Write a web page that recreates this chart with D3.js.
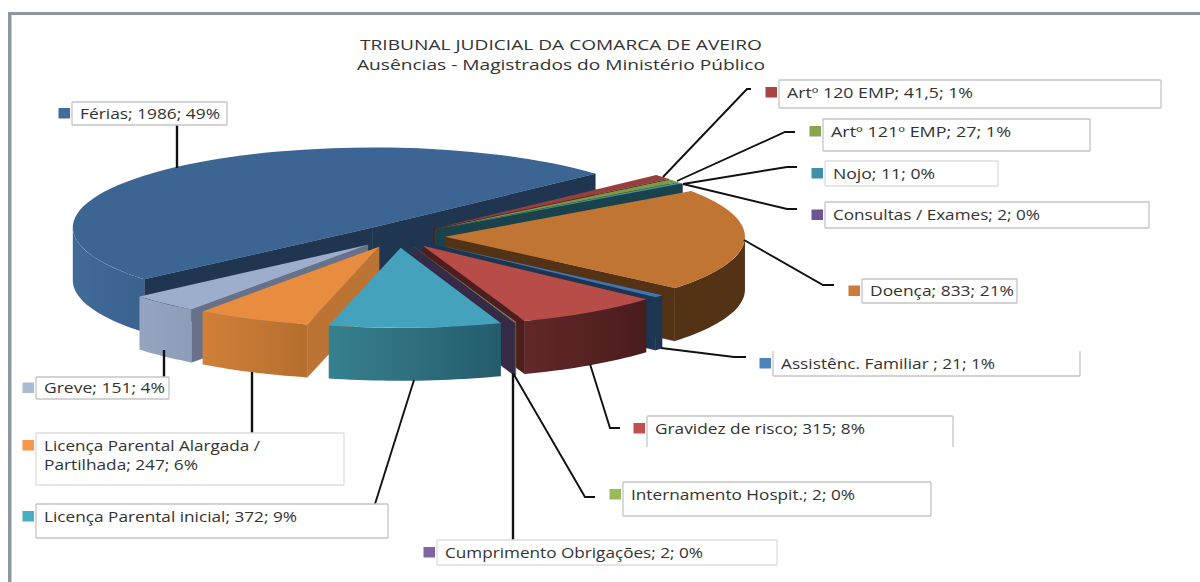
<!DOCTYPE html>
<html><head><meta charset="utf-8">
<script src="https://cdn.jsdelivr.net/npm/d3@7/dist/d3.min.js"></script>
<style>html,body{margin:0;background:#fff}svg{display:block}text{font-family:"Open Sans","Noto Sans",sans-serif;fill:#333}</style>
</head><body><svg id="c" width="1200" height="582"></svg>
<script>
const titleLines = ["TRIBUNAL JUDICIAL DA COMARCA DE AVEIRO", "Ausências - Magistrados do Ministério Público"];
const categories = ["Férias","Artº 120 EMP","Artº 121º EMP","Nojo","Consultas / Exames","Doença","Assistênc. Familiar ","Gravidez de risco","Internamento Hospit.","Cumprimento Obrigações","Licença Parental inicial","Licença Parental Alargada / Partilhada","Greve"];
const values = [1986,41.5,27,11,2,833,21,315,2,2,372,247,151];
const percents = [49,1,1,0,0,21,1,8,0,0,9,6,4];
const drawOrder = ["Férias","Artº 120 EMP","Artº 121º EMP","Consultas / Exames","Nojo","Doença","Assistênc. Familiar ","Greve","Gravidez de risco","Licença Parental Alargada / Partilhada","Internamento Hospit.","Cumprimento Obrigações","Licença Parental inicial"];

// style per category: top face, radial wall, outer wall left/right, legend swatch
const styles = {
 "Férias":{top:"#3c6594",cut:"#1f3550",o:["#426a99","#3a628f"],key:"#426b9f"},
 "Artº 120 EMP":{top:"#953f3e",cut:"#4e1f1e",o:["#4e1f1e","#4e1f1e"],key:"#a94442"},
 "Artº 121º EMP":{top:"#7b9a45",cut:"#414f24",o:["#414f24","#414f24"],key:"#8aa44f"},
 "Nojo":{top:"#3f97ae",cut:"#1a424d",o:["#1a424d","#1a424d"],key:"#3e91a9"},
 "Consultas / Exames":{top:"#6b5389",cut:"#33284a",o:["#33284a","#33284a"],key:"#6d5592"},
 "Doença":{top:"#c07533",cut:"#533216",o:["#533216","#533216"],key:"#cc7b38"},
 "Assistênc. Familiar ":{top:"#3f77b6",cut:"#1d3550",o:["#1d3550","#1d3550"],key:"#4f81bd"},
 "Gravidez de risco":{top:"#b84c49",cut:"#4e1e1e",o:["#622828","#4a1c1c"],key:"#c0504d"},
 "Internamento Hospit.":{top:"#9abb59",cut:"#5d7030",o:["#5d7030","#5d7030"],key:"#9bbb59"},
 "Cumprimento Obrigações":{top:"#7d62a0",cut:"#352a47",o:["#352a47","#352a47"],key:"#8064a2"},
 "Licença Parental inicial":{top:"#44a2bc",cut:"#255c6c",o:["#37808f","#255c6c"],key:"#4bacc6"},
 "Licença Parental Alargada / Partilhada":{top:"#e88d40",cut:"#bb7434",o:["#d08038","#b56e2e"],key:"#f79646"},
 "Greve":{top:"#9dadcc",cut:"#687188",o:["#95a5c0","#8e9db7"],key:"#aab9d4"}
};
// small horizontal placement corrections per slice
const nudgeX = {"Férias":1,"Doença":1,"Assistênc. Familiar ":-1,"Gravidez de risco":-2,"Internamento Hospit.":-1,"Cumprimento Obrigações":-1,"Licença Parental inicial":-2,"Licença Parental Alargada / Partilhada":-3,"Greve":-3};
// label boxes: box [x0,y0,x1,y1], drawn sides, text widths per line, wrapped lines, leader polyline
const layout = {
 "Férias":{box:[72,102,227,125],sides:"trbl",w:[140],leader:[[177,125],[177,168]]},
 "Artº 120 EMP":{box:[779,80,1161,108],sides:"trbl",w:[186],leader:[[663,177],[747,89],[751,89]]},
 "Artº 121º EMP":{box:[823,119,1090,151],sides:"trbl",w:[180],leader:[[677,181],[785,132],[795,132]]},
 "Nojo":{box:[825,161,998,186],sides:"trbl",w:[102],faint:true,leader:[[683,184],[787,167],[797,167]]},
 "Consultas / Exames":{box:[825,202,1149,228],sides:"trbl",w:[207],leader:[[683,184],[787,209],[797,209]]},
 "Doença":{box:[862,279,1017,303],sides:"trbl",w:[144],leader:[[744,240],[823,285],[834,285]]},
 "Assistênc. Familiar ":{box:[773,351,1080,376],sides:"rbl",w:[214],leader:[[661,348],[734,357],[746,357]]},
 "Gravidez de risco":{box:[647,416,953,447],sides:"trl",w:[210],leader:[[590,364],[610,428],[620,428]]},
 "Internamento Hospit.":{box:[623,482,931,516],sides:"trbl",w:[224],leader:[[513,373],[585,497],[595,497]]},
 "Cumprimento Obrigações":{box:[437,540,777,565],sides:"trbl",w:[258],faint:true,leader:[[513,373],[513,540]]},
 "Licença Parental inicial":{box:[36,504,388,538],sides:"trbl",w:[253],leader:[[414,380],[375,504]]},
 "Licença Parental Alargada / Partilhada":{box:[36,433,344,485],sides:"trbl",w:[216,154],faint:true,leader:[[252,372],[252,433]],lines:["Licença Parental Alargada /","Partilhada; 247; 6%"]},
 "Greve":{box:[36,377,169,399],sides:"trbl",w:[121],leader:[[164,350],[164,377]]}
};
const titleWidths=[402,408];

const svg = d3.select("#c");
const cx=400.5, cy=236.2, rx=300, ry=80, depth=53, explode=0.145;
const rad = d => d*Math.PI/180;
const pie = d3.pie().sort(null).startAngle(rad(229.6)).endAngle(rad(229.6+360));
const arcs = pie(values).map((a,i)=>{
  const name=categories[i], mid=(a.startAngle+a.endAngle)/2;
  return {name,value:values[i],pct:percents[i],a1:a.startAngle,a2:a.endAngle,
    ax:cx+rx*explode*Math.sin(mid)+(nudgeX[name]||0), ay:cy-ry*explode*Math.cos(mid)};
});
const byName = new Map(arcs.map(a=>[a.name,a]));

const defs = svg.append("defs");
categories.forEach((n,i)=>{
  const g=defs.append("linearGradient").attr("id","g"+i).attr("x1",0).attr("x2",1).attr("y1",0).attr("y2",0);
  g.append("stop").attr("offset",0).attr("stop-color",styles[n].o[0]);
  g.append("stop").attr("offset",1).attr("stop-color",styles[n].o[1]);
});

// frame
const frameColor="#8e969f";
svg.append("rect").attr("x",8).attr("y",12).attr("width",1192).attr("height",3).attr("fill",frameColor);
svg.append("rect").attr("x",8).attr("y",12).attr("width",3.5).attr("height",570).attr("fill",frameColor);

const arcGen = d3.arc().innerRadius(0).outerRadius(rx);
const line = d3.line();
const pt = (s,ang,dz=0)=>[s.ax+rx*Math.sin(ang), s.ay-ry*Math.cos(ang)+dz];
const pieG = svg.append("g");

function cutWall(s,ang,fill){
  const p=[[s.ax,s.ay],pt(s,ang),pt(s,ang,depth),[s.ax,s.ay+depth]];
  pieG.append("path").attr("d",line(p)+"Z").attr("fill",fill).attr("stroke",fill).attr("stroke-width",0.4);
}
function outerWall(s,from,to,fill){
  const n=Math.max(2,Math.ceil((to-from)/rad(1.5)));
  const angs=d3.range(n+1).map(i=>from+(to-from)*i/n);
  const p=angs.map(a=>pt(s,a)).concat(angs.slice().reverse().map(a=>pt(s,a,depth)));
  pieG.append("path").attr("d",line(p)+"Z").attr("fill",fill);
}
drawOrder.forEach(name=>{
  const s=byName.get(name), st=styles[name], i=categories.indexOf(name);
  if(Math.sin(s.a1)<0) cutWall(s,s.a1,st.cut);
  if(Math.sin(s.a2)>0) cutWall(s,s.a2,st.cut);
  [0,1].forEach(k=>{
    const lo=Math.max(s.a1,rad(90+360*k)), hi=Math.min(s.a2,rad(270+360*k));
    if(hi>lo) outerWall(s,lo,hi,`url(#g${i})`);
  });
  pieG.append("path").attr("d",arcGen({startAngle:s.a1,endAngle:s.a2}))
    .attr("transform",`translate(${s.ax},${s.ay}) scale(1,${ry/rx})`).attr("fill",st.top);
});

// leaders
const lg=svg.append("g");
categories.forEach(n=>{
  const l=layout[n].leader, vertical=l.length===2&&l[0][0]===l[1][0];
  lg.append("path").attr("d",line(l)).attr("fill","none").attr("stroke","#111").attr("stroke-width",vertical?2.4:1.9);
});

// labels
const labelG=svg.append("g");
arcs.forEach(s=>{
  const L=layout[s.name], [x0,y0,x1,y1]=L.box;
  const seg={t:[[x0,y0],[x1,y0]],r:[[x1,y0],[x1,y1]],b:[[x1,y1],[x0,y1]],l:[[x0,y1],[x0,y0]]};
  L.sides.split("").forEach(k=>labelG.append("path").attr("d",line(seg[k])).attr("fill","none")
     .attr("stroke",L.faint?"#dcdcdc":"#c4c4c4").attr("stroke-width",1.3));
  const txtLines=L.lines||[`${s.name}; ${String(s.value).replace(".",",")}; ${s.pct}%`];
  const tall=y1-y0>=28;
  const yBase=tall? y0+17.5 : (y0+y1)/2+5;
  txtLines.forEach((t,j)=>labelG.append("text").attr("x",x0+8).attr("y",yBase+j*19).attr("font-size",13.8)
     .attr("textLength",L.w[j]).attr("lengthAdjust","spacingAndGlyphs").text(t));
  labelG.append("rect").attr("x",x0-13.5).attr("y",tall? y0+7 : (y0+y1)/2-5.5).attr("width",11.5).attr("height",10.5).attr("fill",styles[s.name].key);
});

// title
titleLines.forEach((t,i)=>svg.append("text").attr("x",561).attr("y",50+i*20).attr("text-anchor","middle").attr("font-size",14.4)
  .attr("textLength",titleWidths[i]).attr("lengthAdjust","spacingAndGlyphs").text(t));
</script></body></html>
